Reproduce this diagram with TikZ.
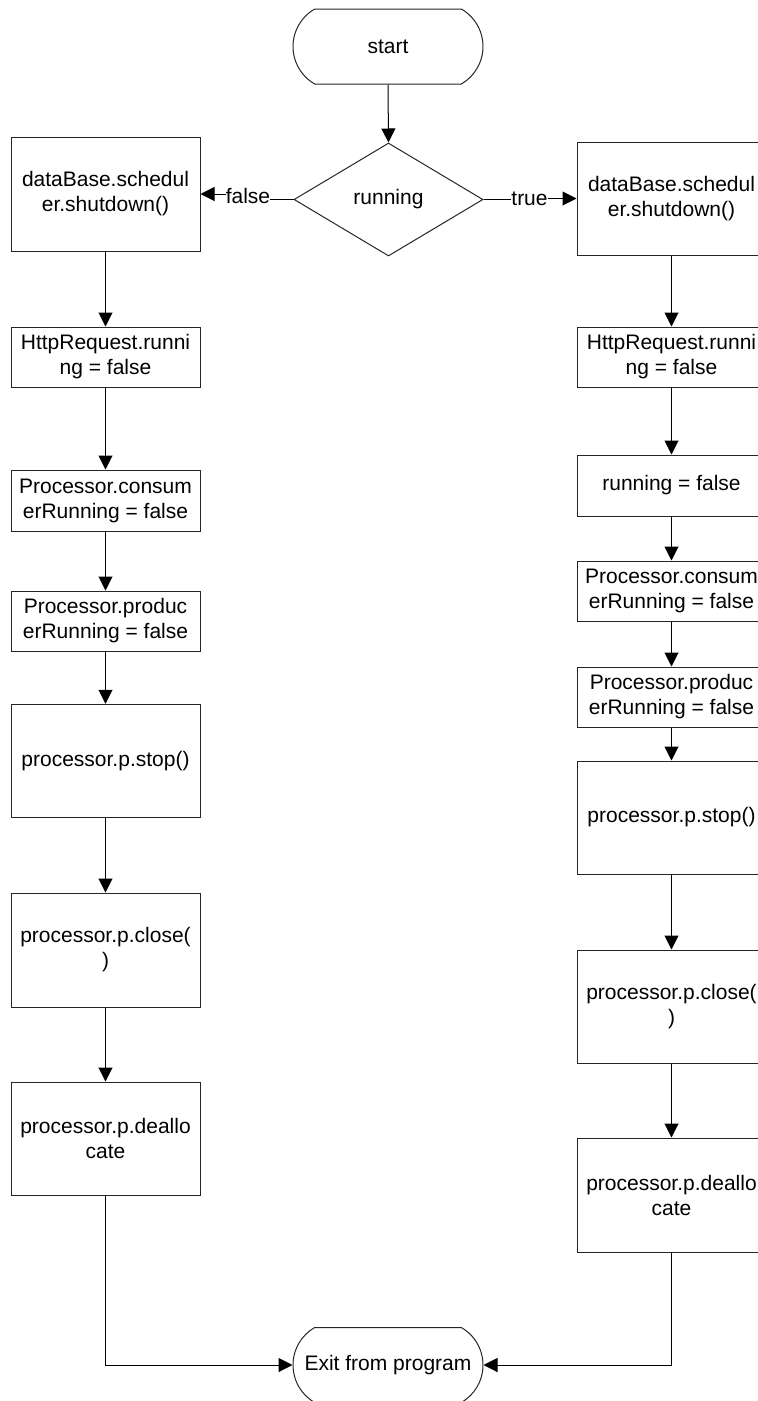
\documentclass[tikz,border=0pt]{standalone}
\usepackage{fontspec}
\setmainfont{Liberation Sans}
\usetikzlibrary{arrows.meta,shapes.geometric,shapes.misc}
\begin{document}
\begin{tikzpicture}[x=1pt,y=-1pt,
  every node/.style={font=\fontsize{21}{25}\selectfont},
  proc/.style={draw=black!85,line width=1pt,rectangle,minimum width=189pt,
    inner sep=0pt,align=center,fill=white},
  term/.style={draw=black!85,line width=1pt,rounded rectangle,
    rounded rectangle arc length=120,minimum width=190pt,minimum height=75pt,
    inner sep=0pt,fill=white},
  decision/.style={draw=black!85,line width=1pt,diamond,minimum width=189pt,
    minimum height=113pt,inner sep=0pt,fill=white},
  arr/.style={line width=1pt,-{Triangle[length=14pt,width=14pt]}},
  conn/.style={line width=1pt},
  lbl/.style={inner sep=0pt,fill=white}]

\useasboundingbox (0,0) rectangle (758,1401);
\clip (0,0) rectangle (758,1401);

% start and decision
\node[term] (start) at (388,46.5) {start};
\node[decision] (dec) at (388.5,199.5) {running};

% left branch (false)
\node[proc,minimum height=114pt] (l1) at (105.5,194)    {dataBase.schedul\\er.shutdown()};
\node[proc,minimum height=60pt]  (l2) at (105.5,357)    {HttpRequest.runni\\ng = false};
\node[proc,minimum height=61pt]  (l3) at (105.5,500.5)  {Processor.consum\\erRunning = false};
\node[proc,minimum height=60pt]  (l4) at (105.5,621)    {Processor.produc\\erRunning = false};
\node[proc,minimum height=113pt] (l5) at (105.5,760.75) {processor.p.stop()};
\node[proc,minimum height=114pt] (l6) at (105.5,950)    {processor.p.close(\\)};
\node[proc,minimum height=113pt] (l7) at (105.5,1138.5) {processor.p.deallo\\cate};

% right branch (true)
\node[proc,minimum height=113pt] (r1) at (671.5,198.5)  {dataBase.schedul\\er.shutdown()};
\node[proc,minimum height=60pt]  (r2) at (671.5,357)    {HttpRequest.runni\\ng = false};
\node[proc,minimum height=61pt]  (r3) at (671.5,485.5)  {running = false};
\node[proc,minimum height=60pt]  (r4) at (671.5,591)    {Processor.consum\\erRunning = false};
\node[proc,minimum height=60pt]  (r5) at (671.5,697)    {Processor.produc\\erRunning = false};
\node[proc,minimum height=113pt] (r6) at (671.5,817.5)  {processor.p.stop()};
\node[proc,minimum height=113pt] (r7) at (671.5,1006.5) {processor.p.close(\\)};
\node[proc,minimum height=114pt] (r8) at (671.5,1195)   {processor.p.deallo\\cate};

% end
\node[term] (exit) at (388,1365) {Exit from program};

% branch labels
\node[lbl] (fl) at (248,196) {false};
\node[lbl] (tl) at (529.5,199) {true};

% connectors
\draw[arr] (start.south) -- (dec.north);
\draw[conn] (dec.west) -- (dec.west -| fl.east);
\draw[arr] (fl.west |- l1.east) -- (l1.east);
\draw[conn] (dec.east) -- (dec.east -| tl.west);
\draw[arr] (tl.east |- r1.west) -- (r1.west);

\draw[arr] (l1) -- (l2);
\draw[arr] (l2) -- (l3);
\draw[arr] (l3) -- (l4);
\draw[arr] (l4) -- (l5);
\draw[arr] (l5) -- (l6);
\draw[arr] (l6) -- (l7);

\draw[arr] (r1) -- (r2);
\draw[arr] (r2) -- (r3);
\draw[arr] (r3) -- (r4);
\draw[arr] (r4) -- (r5);
\draw[arr] (r5) -- (r6);
\draw[arr] (r6) -- (r7);
\draw[arr] (r7) -- (r8);

\draw[arr] (l7.south) |- (exit.west);
\draw[arr] (r8.south) |- (exit.east);
\end{tikzpicture}
\end{document}
